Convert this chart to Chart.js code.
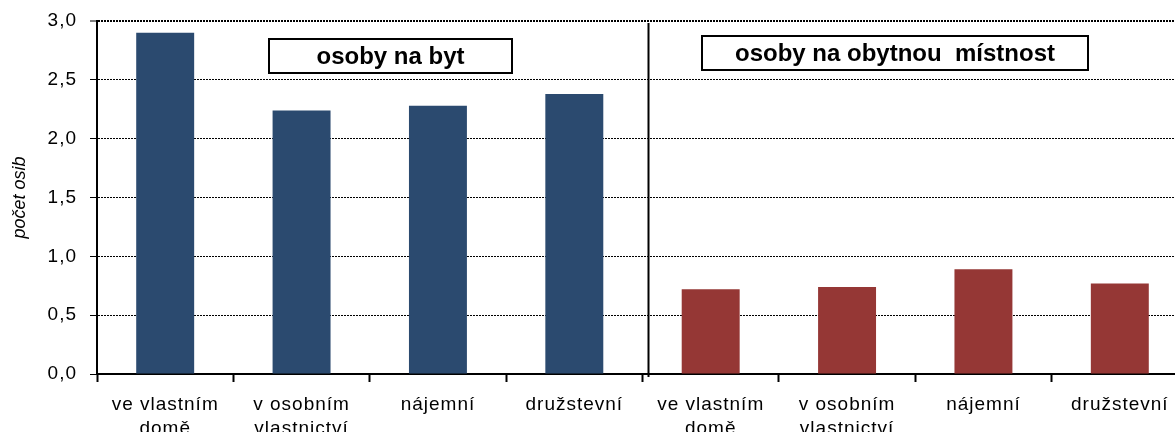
<!DOCTYPE html>
<html>
<head>
<meta charset="utf-8">
<script src="https://cdn.jsdelivr.net/npm/chart.js@4"></script>
<style>
  html, body { margin: 0; padding: 0; background: #fff; overflow: hidden; }
  #chart { display: block; }
</style>
</head>
<body>
<canvas id="chart" width="1188" height="432"></canvas>
<script>
// Data
const categories = [['ve vlastním', 'domě'], ['v osobním', 'vlastnictví'], ['nájemní'], ['družstevní']];
const osobyNaByt = [2.90, 2.24, 2.28, 2.38];
const osobyNaMistnost = [0.72, 0.74, 0.89, 0.77];
const panelTitles = ['osoby na byt', 'osoby na obytnou  místnost'];
const yTitle = 'počet osib';

const labels = categories.concat(categories);
const empty = categories.map(() => null);

const FONT = '"Liberation Sans", Arial, sans-serif';

// spacing for axis labels (the original has wide letter spacing)
function spaceLabels(scale, spacing) {
  if (scale._spaced) return;
  const orig = scale.drawLabels;
  scale.drawLabels = function (area) {
    const ctx = this.ctx;
    ctx.save();
    ctx.letterSpacing = spacing;
    orig.call(this, area);
    ctx.restore();
  };
  scale._spaced = true;
}

const extras = {
  id: 'extras',
  beforeDraw(chart) {
    spaceLabels(chart.scales.x, '1px');
    spaceLabels(chart.scales.y, '1px');
  },
  afterDraw(chart) {
    const ctx = chart.ctx;
    const x = chart.scales.x;
    const area = chart.chartArea;
    // divider between the two panels
    const split = (x.getPixelForValue(3) + x.getPixelForValue(4)) / 2 + 6;
    ctx.save();
    ctx.strokeStyle = '#000';
    ctx.lineWidth = 2;
    ctx.beginPath();
    ctx.moveTo(split, area.top + 2);
    ctx.lineTo(split, area.bottom + 3);
    ctx.stroke();

    // panel title boxes
    const boxes = [
      { x: 269, y: 39, w: 243, h: 34 },
      { x: 702, y: 36, w: 386, h: 34 }
    ];
    ctx.font = 'bold 24px ' + FONT;
    ctx.textAlign = 'center';
    ctx.textBaseline = 'middle';
    boxes.forEach((b, i) => {
      ctx.fillStyle = '#fff';
      ctx.fillRect(b.x, b.y, b.w, b.h);
      ctx.lineWidth = 2;
      ctx.strokeRect(b.x, b.y, b.w, b.h);
      ctx.fillStyle = '#000';
      ctx.fillText(panelTitles[i], b.x + b.w / 2, b.y + b.h / 2 + 1);
    });
    ctx.restore();
  }
};

new Chart(document.getElementById('chart'), {
  type: 'bar',
  data: {
    labels: labels,
    datasets: [
      {
        label: panelTitles[0],
        data: osobyNaByt.concat(empty),
        backgroundColor: '#2B4A6F'
      },
      {
        label: panelTitles[1],
        data: empty.concat(osobyNaMistnost),
        backgroundColor: '#953735'
      }
    ]
  },
  options: {
    responsive: false,
    animation: false,
    events: [],
    layout: { padding: { top: 21, left: 0, right: 0, bottom: 0 } },
    datasets: {
      bar: { grouped: false, categoryPercentage: 1, barPercentage: 0.425 }
    },
    plugins: {
      legend: { display: false },
      tooltip: { enabled: false }
    },
    scales: {
      x: {
        offset: true,
        grid: {
          offset: true,
          drawOnChartArea: false,
          tickLength: 8,
          tickWidth: 2,
          tickColor: '#000'
        },
        border: { color: '#000', width: 2 },
        ticks: {
          color: '#000',
          padding: 11,
          maxRotation: 0,
          autoSkip: false,
          font: { family: FONT, size: 19, lineHeight: 1.25 }
        },
        afterFit(scale) {
          scale.height = 58;
          scale.paddingLeft = 0;
          scale.paddingRight = 0;
        }
      },
      y: {
        min: 0,
        max: 3,
        grid: {
          color: '#000',
          lineWidth: (c) => (c.tick && c.tick.value === 3 ? 2 : 1),
          tickLength: 7,
          tickColor: '#000',
          tickWidth: 1
        },
        border: { color: '#000', width: 2, dash: [2, 1] },
        ticks: {
          stepSize: 0.5,
          color: '#000',
          padding: 13,
          font: { family: FONT, size: 19 },
          callback: (v) => v.toFixed(1).replace('.', ',')
        },
        title: {
          display: true,
          text: yTitle,
          color: '#000',
          padding: { top: 9, bottom: 0 },
          font: { family: FONT, size: 18, style: 'italic' }
        },
        afterFit(scale) {
          scale.width = 97;
          scale.paddingTop = 0;
          scale.paddingBottom = 0;
        }
      }
    }
  },
  plugins: [extras]
});
</script>
</body>
</html>
